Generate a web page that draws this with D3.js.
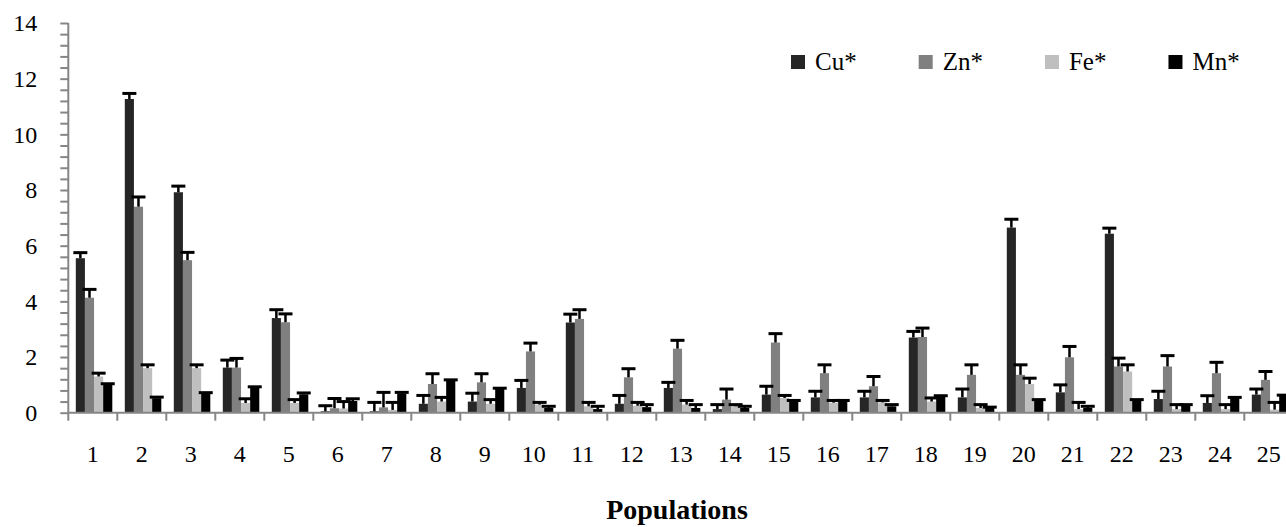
<!DOCTYPE html>
<html>
<head>
<meta charset="utf-8">
<script src="https://cdn.jsdelivr.net/npm/d3@7"></script>
<style>
  html, body { margin: 0; padding: 0; background: #fff; }
  svg { display: block; }
</style>
</head>
<body>
<svg id="chart" width="1286" height="527"></svg>
<script>
const categories = ["1","2","3","4","5","6","7","8","9","10","11","12","13","14","15","16","17","18","19","20","21","22","23","24","25"];
const seriesNames = ["Cu*", "Zn*", "Fe*", "Mn*"];

const cuValues = [5.55, 11.27, 7.92, 1.62, 3.4, 0.05, 0.05, 0.32, 0.4, 0.89, 3.24, 0.32, 0.89, 0.13, 0.65, 0.55, 0.55, 2.7, 0.55, 6.65, 0.73, 6.43, 0.49, 0.35, 0.65];
const cuErrors = [0.2, 0.2, 0.22, 0.27, 0.3, 0.2, 0.32, 0.3, 0.3, 0.27, 0.3, 0.3, 0.2, 0.16, 0.3, 0.22, 0.22, 0.22, 0.3, 0.3, 0.27, 0.2, 0.28, 0.26, 0.2];

const znValues = [4.13, 7.4, 5.48, 1.62, 3.25, 0.16, 0.19, 1.03, 1.09, 2.2, 3.37, 1.27, 2.3, 0.47, 2.52, 1.42, 0.95, 2.72, 1.36, 1.36, 1.99, 1.66, 1.66, 1.42, 1.18];
const znErrors = [0.3, 0.35, 0.28, 0.33, 0.3, 0.35, 0.54, 0.37, 0.31, 0.3, 0.33, 0.31, 0.3, 0.38, 0.32, 0.3, 0.35, 0.32, 0.36, 0.36, 0.39, 0.3, 0.39, 0.39, 0.3];

const feValues = [1.3, 1.6, 1.6, 0.35, 0.35, 0.15, 0.1, 0.4, 0.32, 0.29, 0.23, 0.25, 0.29, 0.23, 0.53, 0.36, 0.37, 0.4, 0.17, 1.03, 0.13, 1.48, 0.13, 0.13, 0.11];
const feErrors = [0.12, 0.12, 0.12, 0.15, 0.12, 0.25, 0.27, 0.15, 0.15, 0.08, 0.14, 0.12, 0.15, 0.06, 0.09, 0.08, 0.07, 0.13, 0.12, 0.21, 0.24, 0.24, 0.16, 0.16, 0.26];

const mnValues = [1.0, 0.52, 0.68, 0.9, 0.66, 0.42, 0.69, 1.15, 0.85, 0.17, 0.13, 0.2, 0.17, 0.17, 0.41, 0.42, 0.23, 0.59, 0.17, 0.44, 0.17, 0.44, 0.25, 0.53, 0.61];
const mnErrors = [0.04, 0.04, 0.04, 0.03, 0.05, 0.08, 0.04, 0.03, 0.03, 0.06, 0.1, 0.09, 0.12, 0.06, 0.03, 0.02, 0.06, 0.02, 0.03, 0.03, 0.06, 0.03, 0.04, 0.02, 0.02];

const yTickLabels = [0, 2, 4, 6, 8, 10, 12, 14];
const xAxisTitle = "Populations";

const seriesColors = ["#262626", "#808080", "#bfbfbf", "#000000"];

const seriesValues = [cuValues, znValues, feValues, mnValues];
const seriesErrors = [cuErrors, znErrors, feErrors, mnErrors];

const FONT = "'Liberation Serif', Tinos, 'Times New Roman', Times, 'DejaVu Serif', serif";

const svg = d3.select("#chart");
const axisColor = "#868686";

const x = d3.scaleBand().domain(categories).range([68.3, 1293.3]).paddingInner(0).paddingOuter(0);
const xs = d3.scaleBand().domain(seriesNames).range([7.5, 44]).padding(0);
const y = d3.scaleLinear().domain([0, 14]).range([412.7, 23]);

// minor / major ticks on Y
const yAxis = d3.axisLeft(y)
  .tickValues(d3.range(0, 14.001, 0.4).map(v => +v.toFixed(1)))
  .tickSize(8)
  .tickPadding(23)
  .tickFormat(d => (yTickLabels.some(t => Math.abs(t - d) < 1e-6) ? d3.format("d")(d) : ""));

const gy = svg.append("g").attr("transform", "translate(68.3,0)").call(yAxis);
gy.attr("font-family", FONT).attr("font-size", 24);
gy.select(".domain").remove();
gy.selectAll(".tick line").attr("stroke", axisColor).attr("stroke-width", 2);
gy.selectAll(".tick text").attr("font-family", FONT).style("font-family", FONT).style("font-size", "24px").attr("fill", "#000").attr("dy", "0.33em");

// Bars
const bars = svg.append("g");
seriesNames.forEach((s, si) => {
  bars.selectAll(".bar-" + si)
    .data(categories.map((c, i) => ({c, v: seriesValues[si][i], e: seriesErrors[si][i]})))
    .enter().append("rect")
    .attr("x", d => x(d.c) + xs(s))
    .attr("width", xs.bandwidth())
    .attr("y", d => y(d.v))
    .attr("height", d => y(0) - y(d.v))
    .attr("fill", seriesColors[si]);
});

// Error bars (plus direction only)
const errs = svg.append("g");
seriesNames.forEach((s, si) => {
  const data = categories.map((c, i) => ({c, v: seriesValues[si][i], e: seriesErrors[si][i]}));
  const cx = d => x(d.c) + xs(s) + xs.bandwidth() / 2;
  errs.selectAll(".stem-" + si).data(data).enter().append("line")
    .attr("x1", cx).attr("x2", cx)
    .attr("y1", d => y(d.v)).attr("y2", d => y(d.v + d.e))
    .attr("stroke", "#000").attr("stroke-width", 2.5);
  errs.selectAll(".cap-" + si).data(data).enter().append("line")
    .attr("x1", d => cx(d) - 7).attr("x2", d => cx(d) + 7)
    .attr("y1", d => y(d.v + d.e)).attr("y2", d => y(d.v + d.e))
    .attr("stroke", "#000").attr("stroke-width", 3);
});

// Axis lines
svg.append("line").attr("x1", 68.3).attr("x2", 68.3).attr("y1", y(14)).attr("y2", y(0))
  .attr("stroke", axisColor).attr("stroke-width", 2);
svg.append("line").attr("x1", 68.3).attr("x2", 1293.3).attr("y1", y(0)).attr("y2", y(0))
  .attr("stroke", axisColor).attr("stroke-width", 2);

// Category boundary ticks
const boundaries = categories.map(c => x(c)).concat([x.range()[1]]);
svg.append("g").selectAll("line").data(boundaries).enter().append("line")
  .attr("x1", d => d).attr("x2", d => d)
  .attr("y1", y(0)).attr("y2", y(0) + 8)
  .attr("stroke", axisColor).attr("stroke-width", 2);

// X labels
const xAxis = d3.axisBottom(x).tickSize(0).tickPadding(32);
const gx = svg.append("g").attr("transform", `translate(0,${y(0)})`).call(xAxis);
gx.attr("font-family", FONT).attr("font-size", 24);
gx.select(".domain").remove();
gx.selectAll(".tick text").attr("font-family", FONT).style("font-family", FONT).style("font-size", "24px").attr("fill", "#000");

// X title
svg.append("text")
  .attr("x", 677).attr("y", 519)
  .attr("text-anchor", "middle")
  .attr("font-family", FONT).style("font-family", FONT)
  .style("font-size", "28px").style("font-weight", "bold")
  .attr("fill", "#000")
  .text(xAxisTitle);

// Legend
const legend = svg.append("g");
let lx = 791;
seriesNames.forEach((s, si) => {
  legend.append("rect").attr("x", lx).attr("y", 55).attr("width", 14).attr("height", 14).attr("fill", seriesColors[si]);
  const t = legend.append("text").attr("x", lx + 24).attr("y", 70)
    .attr("font-family", FONT).style("font-family", FONT)
    .style("font-size", "25px").attr("fill", "#000").text(s);
  const w = t.node().getComputedTextLength();
  lx = lx + 24 + w + 62;
});
</script>
</body>
</html>
